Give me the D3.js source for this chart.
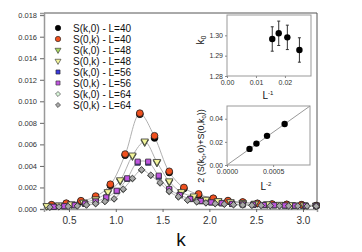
<!DOCTYPE html>
<html>
<head>
<meta charset="utf-8">
<script src="https://cdn.jsdelivr.net/npm/d3@7"></script>
<style>
  body { margin: 0; background: #fff; }
  text { font-family: "Liberation Sans", Arial, sans-serif; }
</style>
</head>
<body>
<div id="chart"></div>
<script>
// k grids per lattice size
const k40 = [0.314,0.471,0.628,0.785,0.942,1.100,1.257,1.414,1.571,1.728,1.885,2.042,2.199,2.356,2.513,2.670,2.827,2.985,3.142];
const k48 = [0.262,0.393,0.524,0.654,0.785,0.916,1.047,1.178,1.309,1.440,1.571,1.702,1.833,1.963,2.094,2.225,2.356,2.487,2.618,2.749,2.880,3.011,3.142];
const k56 = [0.337,0.449,0.561,0.673,0.785,0.898,1.010,1.122,1.234,1.346,1.459,1.571,1.683,1.795,1.907,2.020,2.132,2.244,2.356,2.468,2.581,2.693,2.805,2.917,3.030,3.142];
const k64 = [0.295,0.393,0.491,0.589,0.687,0.785,0.884,0.982,1.080,1.178,1.276,1.374,1.473,1.571,1.669,1.767,1.865,1.963,2.062,2.160,2.258,2.356,2.454,2.553,2.651,2.749,2.847,2.945,3.044,3.142];

const sk0_40 = [0.00036,0.00050,0.00072,0.0011,0.0022,0.0050,0.0088,0.0066,0.0034,0.0019,0.0013,0.00095,0.00074,0.00062,0.00050,0.00044,0.00041,0.00038,0.00030];
const s0k_40 = [0.00040,0.00054,0.00077,0.0012,0.0023,0.0051,0.0089,0.0068,0.0035,0.0020,0.0014,0.0010,0.00078,0.00065,0.00053,0.00046,0.00043,0.00040,0.00032];
const sk0_48 = [0.00028,0.00034,0.00044,0.00060,0.00090,0.0015,0.0026,0.0049,0.0062,0.0043,0.0025,0.0015,0.0011,0.00088,0.00074,0.00064,0.00056,0.00050,0.00045,0.00040,0.00037,0.00035,0.00033];
const s0k_48 = [0.00030,0.00036,0.00046,0.00062,0.00092,0.0016,0.0027,0.0050,0.0063,0.0044,0.0026,0.0016,0.0012,0.00090,0.00076,0.00066,0.00058,0.00052,0.00047,0.00042,0.00038,0.00036,0.00034];
const sk0_56 = [0.00020,0.00025,0.00034,0.00048,0.00068,0.00105,0.00165,0.0028,0.0043,0.0043,0.0030,0.0018,0.0013,0.00092,0.00072,0.00060,0.00052,0.00046,0.00041,0.00038,0.00035,0.00033,0.00031,0.00030,0.00029,0.00028];
const s0k_56 = [0.00021,0.00026,0.00035,0.00050,0.00070,0.00108,0.0017,0.00285,0.0044,0.0044,0.0031,0.00186,0.0013,0.00094,0.00074,0.00062,0.00054,0.00048,0.00043,0.00040,0.00037,0.00035,0.00033,0.00031,0.00030,0.00029];
const sk0_64 = [0.00016,0.00019,0.00023,0.00028,0.00036,0.00048,0.00068,0.00092,0.0018,0.0028,0.0036,0.0031,0.0024,0.0016,0.0011,0.00080,0.00065,0.00055,0.00048,0.00043,0.00039,0.00036,0.00034,0.00032,0.00030,0.00029,0.00028,0.00027,0.00026,0.00025];
const s0k_64 = [0.00017,0.00020,0.00024,0.00029,0.00037,0.00050,0.00070,0.00095,0.00185,0.00285,0.00365,0.00315,0.00245,0.00165,0.00115,0.00082,0.00067,0.00057,0.00050,0.00045,0.00040,0.00037,0.00035,0.00033,0.00031,0.00030,0.00029,0.00028,0.00027,0.00026];

const legendLabels = ["S(k,0) - L=40","S(0,k) - L=40","S(k,0) - L=48","S(0,k) - L=48","S(k,0) - L=56","S(0,k) - L=56","S(k,0) - L=64","S(0,k) - L=64"];
const yTicks = [0,0.002,0.004,0.006,0.008,0.010,0.012,0.014,0.016,0.018];
const xTicks = [0.5,1.0,1.5,2.0,2.5,3.0];

// inset data
const invL = [0.015625, 0.017857, 0.020833, 0.025];
const k0 = [1.2982, 1.3010, 1.2990, 1.2928];
const k0err = [0.006, 0.006, 0.006, 0.006];
const invL2 = [0.000244, 0.000319, 0.000434, 0.000625];
const amp = [0.0139, 0.0185, 0.0252, 0.0354];
const ampFit = [[0, 0], [0.0009, 0.0510]];

const series = [
  {k: k40, v: sk0_40, type: d3.symbolCircle, size: 36, fill: "#000000", stroke: "#000", rot: 0},
  {k: k40, v: s0k_40, type: d3.symbolCircle, size: 36, fill: "#f0501e", stroke: "#222", rot: 0},
  {k: k48, v: sk0_48, type: d3.symbolTriangle, size: 24, fill: "#a8d860", stroke: "#333", rot: 180},
  {k: k48, v: s0k_48, type: d3.symbolTriangle, size: 24, fill: "#f2f59a", stroke: "#333", rot: 180},
  {k: k56, v: sk0_56, type: d3.symbolSquare, size: 26, fill: "#3a3ae0", stroke: "#222", rot: 0},
  {k: k56, v: s0k_56, type: d3.symbolSquare, size: 26, fill: "#c055e0", stroke: "#333", rot: 0},
  {k: k64, v: sk0_64, type: d3.symbolSquare, size: 20, fill: "#d8f5d8", stroke: "#444", rot: 45},
  {k: k64, v: s0k_64, type: d3.symbolSquare, size: 20, fill: "#a8a8a8", stroke: "#333", rot: 45}
];

const W = 362, H = 252;
const x = d3.scaleLinear().domain([0.233, 3.15]).range([44, 317]);
const y = d3.scaleLinear().domain([0, 0.0182]).range([209, 13]);

const svg = d3.select("#chart").append("svg")
  .attr("width", W).attr("height", H);

svg.append("defs").append("clipPath").attr("id", "clip")
  .append("rect").attr("x", 40).attr("y", 13).attr("width", 280).attr("height", 200);

// frame (top/right)
svg.append("path")
  .attr("d", "M44,13H317V209")
  .attr("fill", "none").attr("stroke", "#555").attr("stroke-width", 1);

// axes
const yAxis = svg.append("g").attr("transform", "translate(44,0)")
  .call(d3.axisLeft(y).tickValues(yTicks).tickFormat(d3.format(".3f")).tickSize(4).tickPadding(3));
const xAxis = svg.append("g").attr("transform", "translate(0,209)")
  .call(d3.axisBottom(x).tickValues(xTicks).tickFormat(d3.format(".1f")).tickSize(3).tickPadding(5));
[yAxis, xAxis].forEach(a => {
  a.select(".domain").attr("stroke", "#999").attr("stroke-width", 1.5);
  a.selectAll(".tick line").attr("stroke", "#666");
  a.selectAll("text").attr("fill", "#333").style("font-family", "Liberation Sans, Arial, sans-serif");
});
yAxis.selectAll("text").attr("font-size", 7.5);
xAxis.selectAll("text").attr("font-size", 10);

svg.append("text").attr("x", 181).attr("y", 246).attr("text-anchor", "middle")
  .attr("font-size", 19).attr("fill", "#111").text("k");

// fit curves: smooth line through mean of both correlation directions
const plot = svg.append("g").attr("clip-path", "url(#clip)");
const line = d3.line().x(d => x(d[0])).y(d => y(d[1])).curve(d3.curveCatmullRom.alpha(0.5));
for (let i = 0; i < series.length; i += 2) {
  const a = series[i], b = series[i + 1];
  const pts = a.k.map((kk, j) => [kk, (a.v[j] + b.v[j]) / 2]);
  plot.append("path").attr("d", line(pts))
    .attr("fill", "none").attr("stroke", "#b0b0b0").attr("stroke-width", 1);
}

function sym(s) {
  return d3.symbol().type(s.type).size(s.size)();
}

series.forEach(s => {
  plot.append("g").selectAll("path")
    .data(s.k.map((kk, j) => [kk, s.v[j]]))
    .enter().append("path")
    .attr("d", sym(s))
    .attr("transform", d => "translate(" + x(d[0]) + "," + y(d[1]) + ") rotate(" + s.rot + ")")
    .attr("fill", s.fill).attr("stroke", s.stroke).attr("stroke-width", 0.8);
});

// legend
const leg = svg.append("g");
series.forEach((s, i) => {
  const yy = 28 + i * 11;
  leg.append("path").attr("d", sym(s))
    .attr("transform", "translate(58," + yy + ") rotate(" + s.rot + ") scale(0.8)")
    .attr("fill", s.fill).attr("stroke", s.stroke).attr("stroke-width", 0.8);
  leg.append("text").attr("x", 73).attr("y", yy + 3.5)
    .attr("font-size", 10).attr("fill", "#111").text(legendLabels[i]);
});

// inset 1: k0 vs 1/L
const ix1 = d3.scaleLinear().domain([0, 0.029]).range([227, 311]);
const iy1 = d3.scaleLinear().domain([1.28, 1.31]).range([76, 15]);
const in1 = svg.append("g");
in1.append("rect").attr("x", 227).attr("y", 15).attr("width", 84).attr("height", 61)
  .attr("fill", "#fff").attr("stroke", "#999").attr("stroke-width", 1);
const a1y = in1.append("g").attr("transform", "translate(227,0)")
  .call(d3.axisLeft(iy1).tickValues([1.28, 1.29, 1.30]).tickFormat(d3.format(".2f")).tickSize(2).tickPadding(2));
const a1x = in1.append("g").attr("transform", "translate(0,76)")
  .call(d3.axisBottom(ix1).tickValues([0, 0.01, 0.02]).tickFormat(d3.format(".2f")).tickSize(2).tickPadding(2));
[a1y, a1x].forEach(a => {
  a.select(".domain").remove();
  a.selectAll(".tick line").attr("stroke", "#888");
  a.selectAll("text").attr("font-size", 7).attr("fill", "#333");
});
in1.selectAll(".err").data(invL).enter().append("line")
  .attr("x1", d => ix1(d)).attr("x2", d => ix1(d))
  .attr("y1", (d, i) => iy1(k0[i] - k0err[i])).attr("y2", (d, i) => iy1(k0[i] + k0err[i]))
  .attr("stroke", "#333").attr("stroke-width", 1);
["-", "+"].forEach(sg => {
  in1.append("g").selectAll("line").data(invL).enter().append("line")
    .attr("x1", d => ix1(d) - 1.5).attr("x2", d => ix1(d) + 1.5)
    .attr("y1", (d, i) => iy1(k0[i] + (sg === "+" ? k0err[i] : -k0err[i])))
    .attr("y2", (d, i) => iy1(k0[i] + (sg === "+" ? k0err[i] : -k0err[i])))
    .attr("stroke", "#333").attr("stroke-width", 1);
});
in1.append("g").selectAll("circle").data(invL).enter().append("circle")
  .attr("cx", d => ix1(d)).attr("cy", (d, i) => iy1(k0[i])).attr("r", 3.2).attr("fill", "#000");
const lab1 = in1.append("text").attr("transform", "translate(204,40) rotate(-90)")
  .attr("text-anchor", "middle").attr("font-size", 10).attr("fill", "#111");
lab1.append("tspan").text("k");
lab1.append("tspan").attr("font-size", 7).attr("dy", 2).text("0");
const lx1 = in1.append("text").attr("x", 268).attr("y", 99).attr("text-anchor", "middle")
  .attr("font-size", 10).attr("fill", "#111");
lx1.append("tspan").text("L");
lx1.append("tspan").attr("font-size", 6).attr("dy", -4).text("-1");

// inset 2: amplitude vs 1/L^2
const ix2 = d3.scaleLinear().domain([0, 0.0009]).range([227, 310]);
const iy2 = d3.scaleLinear().domain([0, 0.051]).range([165, 106]);
const in2 = svg.append("g");
in2.append("rect").attr("x", 227).attr("y", 106).attr("width", 83).attr("height", 59)
  .attr("fill", "#fff").attr("stroke", "#999").attr("stroke-width", 1);
const a2y = in2.append("g").attr("transform", "translate(227,0)")
  .call(d3.axisLeft(iy2).tickValues([0, 0.02, 0.04]).tickFormat(d3.format(".2f")).tickSize(2).tickPadding(2));
const a2x = in2.append("g").attr("transform", "translate(0,165)")
  .call(d3.axisBottom(ix2).tickValues([0, 0.0005]).tickFormat(d3.format(".4f")).tickSize(2).tickPadding(2));
[a2y, a2x].forEach(a => {
  a.select(".domain").remove();
  a.selectAll(".tick line").attr("stroke", "#888");
  a.selectAll("text").attr("font-size", 7).attr("fill", "#333");
});
in2.append("path").attr("d", d3.line().x(d => ix2(d[0])).y(d => iy2(d[1]))(ampFit))
  .attr("stroke", "#999").attr("fill", "none").attr("stroke-width", 1);
in2.append("g").selectAll("circle").data(invL2).enter().append("circle")
  .attr("cx", d => ix2(d)).attr("cy", (d, i) => iy2(amp[i])).attr("r", 3.2).attr("fill", "#000");
const lab2 = in2.append("text").attr("transform", "translate(204,146) rotate(-90)")
  .attr("text-anchor", "middle").attr("font-size", 9).attr("fill", "#111");
lab2.append("tspan").text("2 (S(k");
lab2.append("tspan").attr("font-size", 6).attr("dy", 2).text("0");
lab2.append("tspan").attr("dy", -2).text(",0)+S(0,k");
lab2.append("tspan").attr("font-size", 6).attr("dy", 2).text("0");
lab2.append("tspan").attr("dy", -2).text("))");
const lx2 = in2.append("text").attr("x", 266).attr("y", 190).attr("text-anchor", "middle")
  .attr("font-size", 10).attr("fill", "#111");
lx2.append("tspan").text("L");
lx2.append("tspan").attr("font-size", 6).attr("dy", -4).text("-2");
</script>
</body>
</html>
